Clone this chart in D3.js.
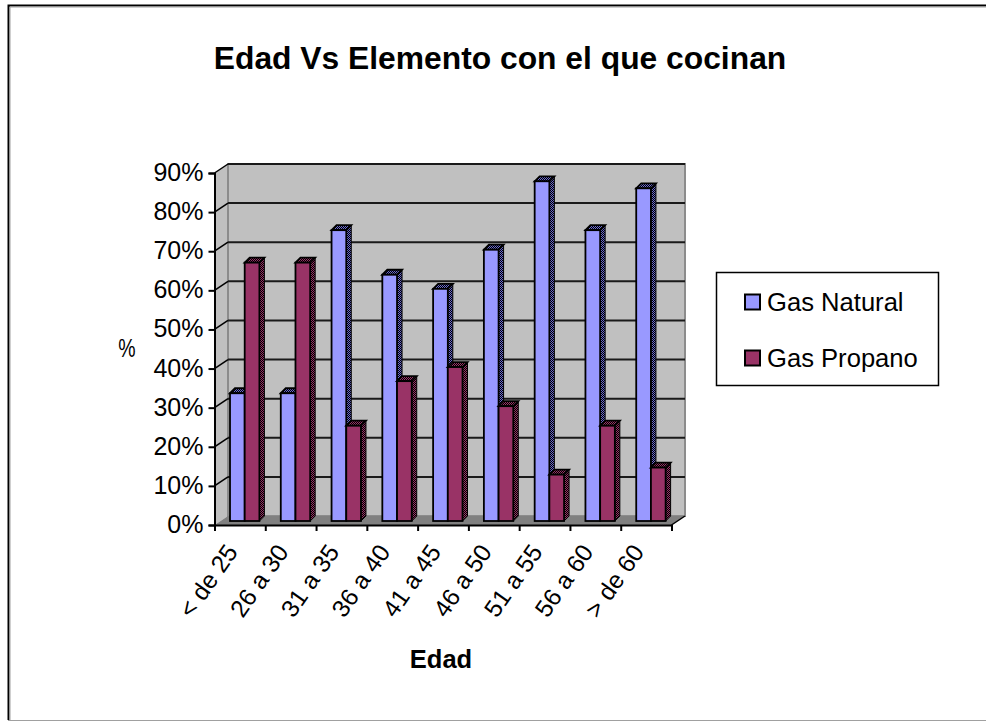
<!DOCTYPE html>
<html><head><meta charset="utf-8">
<script src="https://cdn.jsdelivr.net/npm/d3@7"></script>
<style>html,body{margin:0;background:#fff;overflow:hidden}svg{display:block}text{font-family:"Liberation Sans",Arial,sans-serif;fill:#000}</style>
</head><body><div id="c"></div>
<script>
const categories=["< de 25","26 a 30","31 a 35","36 a 40","41 a 45","46 a 50","51 a 55","56 a 60","> de 60"];
const gasNatural=[33.3,33.3,75,63.6,60,70,87.5,75,85.7];
const gasPropano=[66.7,66.7,25,36.4,40,30,12.5,25,14.3];
const seriesNames=["Gas Natural","Gas Propano"];
const yTicks=[0,10,20,30,40,50,60,70,80,90];
const W=986,H=721;
const svg=d3.select("#c").append("svg").attr("width",W).attr("height",H);
const defs=svg.append("defs");
function hatch(id,dark,mid){
  const p=defs.append("pattern").attr("id",id).attr("width",2).attr("height",2).attr("patternUnits","userSpaceOnUse");
  p.append("rect").attr("width",2).attr("height",2).attr("fill",mid);
  p.append("rect").attr("width",1).attr("height",1).attr("fill",dark);
  p.append("rect").attr("x",1).attr("y",1).attr("width",1).attr("height",1).attr("fill",dark);
}
hatch("hb","#000000","#6a6ad0");
hatch("hp","#000000","#993366");
// frame: top and left black edge with grey inner line, grey bottom line, open right side
svg.append("path").attr("d","M986,5.5H8.5V720").attr("fill","none").attr("stroke","#000").attr("stroke-width",2);
svg.append("path").attr("d","M986,7H10V720").attr("fill","none").attr("stroke","#a0a0a0").attr("stroke-width",1);
svg.append("path").attr("d","M8,720.5H986").attr("stroke","#a0a0a0").attr("stroke-width",1);
svg.append("text").attr("x",500).attr("y",68.5).attr("text-anchor","middle").attr("font-size",31.8).attr("font-weight","bold").text("Edad Vs Elemento con el que cocinan");

const L=214.5,R=671.5,B=525,T=173,dx=13.5,dy=-9;
const x=d3.scaleBand().domain(categories).range([L,R]);
const y=d3.scaleLinear().domain([0,90]).range([B,T]);
const g=svg.append("g");
// walls
g.append("path").attr("d",`M${L},${B}L${L+dx},${B+dy}L${L+dx},${T+dy}L${L},${T}Z`).attr("fill","#c0c0c0");
g.append("rect").attr("x",L+dx).attr("y",T+dy).attr("width",R-L).attr("height",B-T).attr("fill","#c0c0c0").attr("stroke","#8c8c8c").attr("stroke-width",2);
g.append("path").attr("d",`M${L},${B}L${L+dx},${B+dy}L${R+dx},${B+dy}L${R},${B}Z`).attr("fill","#808080");
// gridlines
yTicks.filter(d=>d>0).forEach(d=>{
  g.append("path").attr("d",`M${L},${y(d)}L${L+dx},${y(d)+dy}`).attr("fill","none").attr("stroke","#000").attr("stroke-width",1.5);
  g.append("path").attr("d",`M${L+dx},${y(d)+dy}H${R+dx}`).attr("fill","none").attr("stroke","#1a1a1a").attr("stroke-width",2);
});
g.append("path").attr("d",`M${R},${B}L${R+dx},${B+dy}`).attr("stroke","#000").attr("stroke-width",1.5);
// bars
const bw=14.7,bdx=5,bdy=-5,off=15.5,barBase=-4,barTop=-1.5;
const colors=["#9999ff","#993366"],sides=["url(#hb)","url(#hp)"];
[gasNatural,gasPropano].forEach((vals,s)=>{
  vals.forEach((v,i)=>{
    const x0=x(categories[i])+off+s*bw, x1=x0+bw, yb=y(0)+barBase, yt=y(v)+barTop;
    const b=g.append("g").attr("stroke","#000").attr("stroke-width",1.8);
    b.append("path").attr("d",`M${x1},${yb}L${x1+bdx},${yb+bdy}L${x1+bdx},${yt+bdy}L${x1},${yt}Z`).attr("fill",sides[s]).attr("stroke-width",1);
    b.append("path").attr("d",`M${x0},${yt}L${x0+bdx},${yt+bdy}L${x1+bdx},${yt+bdy}L${x1},${yt}Z`).attr("fill",sides[s]);
    b.append("rect").attr("x",x0).attr("y",yt).attr("width",bw).attr("height",yb-yt).attr("fill",colors[s]);
  });
});
// axes
const yAxis=g.append("g").attr("transform",`translate(${L},0)`).call(d3.axisLeft(y).tickValues(yTicks).tickFormat(d=>d+"%").tickSize(6).tickPadding(5));
yAxis.selectAll("text").attr("font-size",25).attr("fill","#000").attr("font-family",'"Liberation Sans"').attr("dy","0.3em");
const xAxisScale=d3.scalePoint().domain(d3.range(10)).range([L,R]);
const xAxis=g.append("g").attr("transform",`translate(0,${B})`).call(d3.axisBottom(xAxisScale).tickFormat("").tickSize(6));
yAxis.selectAll("path,line").attr("stroke","#000").attr("stroke-width",2);
xAxis.selectAll("path,line").attr("stroke","#000").attr("stroke-width",2);
g.selectAll("text.cat").data(categories).join("text").attr("class","cat")
  .attr("transform",d=>`translate(${x(d)+x.bandwidth()/2-1},${B+27}) rotate(-55)`)
  .attr("text-anchor","end").attr("font-size",24.5).text(d=>d);
g.append("text").attr("x",441).attr("y",668).attr("text-anchor","middle").attr("font-size",25.5).attr("font-weight","bold").text("Edad");
g.append("text").attr("transform","translate(127,357) scale(0.75,1)").attr("text-anchor","middle").attr("font-size",26).text("%");
// legend
const lg=svg.append("g");
lg.append("rect").attr("x",716.5).attr("y",272.5).attr("width",222).attr("height",113).attr("fill","#fff").attr("stroke","#000").attr("stroke-width",1.5);
seriesNames.forEach((n,i)=>{
  const cy=[302,358][i];
  lg.append("rect").attr("x",745).attr("y",cy-7.5).attr("width",15).attr("height",15).attr("fill",colors[i]).attr("stroke","#000").attr("stroke-width",2);
  lg.append("text").attr("x",767).attr("y",cy+8.5).attr("font-size",25.6).text(n);
});
</script></body></html>
